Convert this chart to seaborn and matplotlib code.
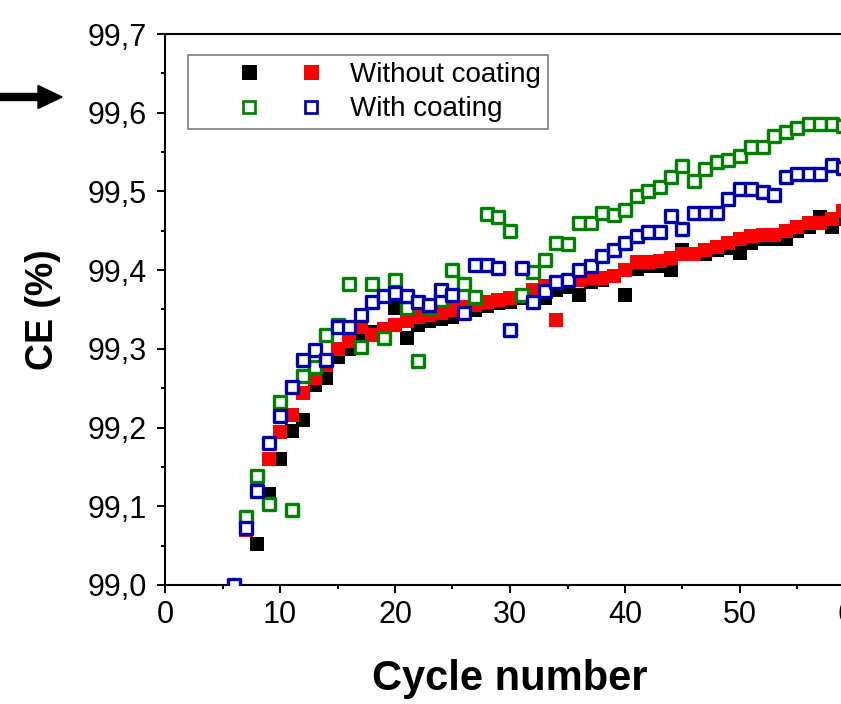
import numpy as np
import pandas as pd
import seaborn as sns
import matplotlib
matplotlib.use("Agg")
import matplotlib.pyplot as plt
from matplotlib.ticker import MultipleLocator, FuncFormatter
from matplotlib.lines import Line2D
from matplotlib.legend_handler import HandlerTuple
from matplotlib.patches import FancyArrow
from matplotlib.transforms import IdentityTransform

# ---------------- data ----------------
cycles_black = list(range(7, 61))
ce_black = [99.070, 99.052, 99.115, 99.160, 99.196, 99.210, 99.254, 99.263, 99.290, 99.300,
            99.316, 99.322, 99.325, 99.352, 99.314, 99.330, 99.335, 99.338, 99.340, 99.345,
            99.350, 99.355, 99.358, 99.360, 99.365, 99.370, 99.365, 99.375, 99.378, 99.369,
            99.385, 99.388, 99.392, 99.369, 99.402, 99.405, 99.405, 99.400, 99.426, 99.420,
            99.420, 99.425, 99.428, 99.422, 99.435, 99.440, 99.440, 99.440, 99.450, 99.455,
            99.468, 99.455, 99.465, 99.470]

cycles_red = list(range(7, 61))
ce_red = [99.070, 99.120, 99.160, 99.195, 99.216, 99.244, 99.263, 99.280, 99.300, 99.310,
          99.328, 99.318, 99.325, 99.330, 99.335, 99.340, 99.343, 99.345, 99.350, 99.353,
          99.356, 99.360, 99.362, 99.365, 99.368, 99.375, 99.380, 99.337, 99.386, 99.388,
          99.390, 99.390, 99.393, 99.400, 99.410, 99.410, 99.412, 99.416, 99.420, 99.420,
          99.425, 99.430, 99.435, 99.440, 99.443, 99.445, 99.445, 99.450, 99.455, 99.460,
          99.460, 99.465, 99.475, 99.480]

cycles_green = list(range(7, 61))
ce_green = [99.087, 99.138, 99.103, 99.232, 99.095, 99.265, 99.277, 99.317, 99.330, 99.383,
            99.302, 99.382, 99.314, 99.388, 99.352, 99.284, 99.352, 99.362, 99.400, 99.382,
            99.366, 99.471, 99.467, 99.450, 99.369, 99.398, 99.413, 99.435, 99.433, 99.460,
            99.460, 99.473, 99.470, 99.477, 99.494, 99.500, 99.506, 99.518, 99.532, 99.513,
            99.528, 99.537, 99.540, 99.545, 99.557, 99.557, 99.570, 99.575, 99.581, 99.586,
            99.586, 99.586, 99.583, 99.590]

cycles_blue = list(range(6, 61))
ce_blue = [99.000, 99.073, 99.120, 99.180, 99.215, 99.252, 99.286, 99.298, 99.286, 99.328,
           99.328, 99.343, 99.360, 99.367, 99.371, 99.367, 99.360, 99.356, 99.375, 99.369,
           99.346, 99.407, 99.407, 99.403, 99.324, 99.403, 99.360, 99.373, 99.385, 99.388,
           99.400, 99.405, 99.418, 99.426, 99.435, 99.443, 99.448, 99.448, 99.469, 99.452,
           99.473, 99.473, 99.473, 99.490, 99.503, 99.503, 99.499, 99.496, 99.518, 99.522,
           99.522, 99.522, 99.534, 99.530, 99.535]

labels = ["Without coating", "With coating"]
x_label = "Cycle number"
y_label = "CE (%)"

# ---------------- style ----------------
sns.set_theme(style="ticks", rc={
    "axes.edgecolor": "black", "xtick.color": "black", "ytick.color": "black",
    "text.color": "black", "axes.labelcolor": "black",
})
plt.rcParams["font.family"] = ["Liberation Sans", "DejaVu Sans"]

W, H = 841, 704
fig = plt.figure(figsize=(W / 100, H / 100), dpi=100)
fig.patch.set_facecolor("white")
x0, x60 = 165, 855
y0, y7 = 585, 34
ax = fig.add_axes([x0 / W, (H - y0) / H, (x60 - x0) / W, (y0 - y7) / H])

C_BLACK, C_RED, C_GREEN, C_BLUE = "#000000", "#ff0000", "#008000", "#0000a8"

filled_s = 108
open_s = 66
open_lw = 2.4

df_black = pd.DataFrame({"cycle": cycles_black, "ce": ce_black})
df_red = pd.DataFrame({"cycle": cycles_red, "ce": ce_red})
df_green = pd.DataFrame({"cycle": cycles_green, "ce": ce_green})
df_blue = pd.DataFrame({"cycle": cycles_blue, "ce": ce_blue})

sns.scatterplot(data=df_black, x="cycle", y="ce", marker="s", s=filled_s,
                color=C_BLACK, linewidth=0, legend=False, ax=ax, zorder=2)
sns.scatterplot(data=df_red, x="cycle", y="ce", marker="s", s=filled_s,
                color=C_RED, linewidth=0, legend=False, ax=ax, zorder=3)
sns.scatterplot(data=df_green, x="cycle", y="ce", marker="s", s=open_s,
                color="white", edgecolor=C_GREEN, linewidth=open_lw, legend=False, ax=ax, zorder=4)
sns.scatterplot(data=df_blue, x="cycle", y="ce", marker="s", s=open_s,
                color="white", edgecolor=C_BLUE, linewidth=open_lw, legend=False, ax=ax, zorder=5)

ax.set_xlim(0, 60)
ax.set_ylim(99.0, 99.7)
ax.xaxis.set_major_locator(MultipleLocator(10))
ax.xaxis.set_minor_locator(MultipleLocator(5))
ax.yaxis.set_major_locator(MultipleLocator(0.1))
ax.yaxis.set_minor_locator(MultipleLocator(0.05))
ax.xaxis.set_major_formatter(FuncFormatter(lambda v, p: f"{v:.0f}"))
ax.yaxis.set_major_formatter(FuncFormatter(lambda v, p: f"{v:.1f}".replace(".", ",")))
ax.tick_params(which="major", direction="out", length=5.8, width=1.4, labelsize=22)
ax.tick_params(axis="x", which="major", pad=5)
ax.tick_params(axis="y", which="major", pad=7)
ax.tick_params(which="minor", direction="out", length=3.0, width=1.4)
for sp in ax.spines.values():
    sp.set_linewidth(1.5)
    sp.set_color("black")

ax.set_xlabel(x_label, fontsize=30, fontweight="bold")
ax.set_ylabel(y_label, fontsize=27, fontweight="bold")
ax.xaxis.label.set_va("baseline")
ax.xaxis.set_label_coords(0.5, (y0 - 690) / (y0 - y7))
ax.yaxis.label.set_va("baseline")
ax.yaxis.set_label_coords((53 - x0) / (x60 - x0), 0.5)


class ShiftedTuple(HandlerTuple):
    def __init__(self, shift, **kw):
        super().__init__(**kw)
        self.shift = shift

    def create_artists(self, legend, orig_handle, xdescent, ydescent, width, height, fontsize, trans):
        return super().create_artists(legend, orig_handle, xdescent - self.shift * fontsize, ydescent,
                                      width - self.shift * fontsize, height, fontsize, trans)


ms_f = 10.8
ms_o = 8.9
h_black = Line2D([], [], ls="none", marker="s", markersize=ms_f, markerfacecolor=C_BLACK, markeredgewidth=0)
h_red = Line2D([], [], ls="none", marker="s", markersize=ms_f, markerfacecolor=C_RED, markeredgewidth=0)
h_green = Line2D([], [], ls="none", marker="s", markersize=ms_o, markerfacecolor="white",
                 markeredgecolor=C_GREEN, markeredgewidth=1.95)
h_blue = Line2D([], [], ls="none", marker="s", markersize=ms_o, markerfacecolor="white",
                markeredgecolor=C_BLUE, markeredgewidth=1.95)

leg = ax.legend([(h_black, h_red), (h_green, h_blue)], labels,
                handler_map={tuple: ShiftedTuple(0.82, ndivide=None, pad=0)},
                loc="upper left", bbox_to_anchor=(188 / W, 1 - 55 / H), bbox_transform=fig.transFigure,
                borderaxespad=0, borderpad=0.25, handlelength=5.28, handletextpad=0.32,
                labelspacing=0.3, fontsize=20, frameon=True, fancybox=False, framealpha=1,
                edgecolor="#7f7f7f")
leg.get_frame().set_linewidth(1.2)
leg.set_zorder(10)

arrow = FancyArrow(0, H - 97, 62, 0, width=7, head_width=23, head_length=24,
                   length_includes_head=True, color="black", transform=IdentityTransform())
fig.add_artist(arrow)

fig.savefig("out.png", dpi=100, facecolor="white")
